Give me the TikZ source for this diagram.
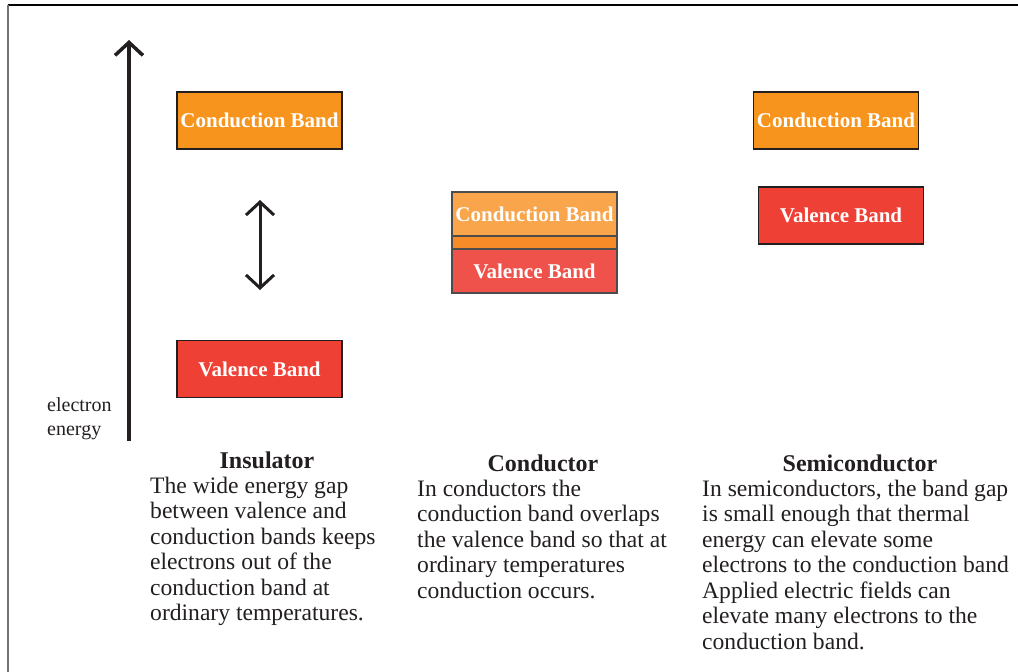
\documentclass[tikz,border=0pt]{standalone}
\usepackage{fontspec}
\setmainfont{Liberation Serif}
\usetikzlibrary{arrows.meta,positioning}
\definecolor{condorange}{HTML}{F7941D}
\definecolor{valred}{HTML}{EF4036}
\definecolor{lightorange}{HTML}{F9A54B}
\definecolor{midorange}{HTML}{F68B28}
\definecolor{lightred}{HTML}{EF524A}
\definecolor{inkgrey}{HTML}{231F20}
\tikzset{
  band/.style={draw=inkgrey, line width=1.3pt, text=white, inner sep=0pt,
    minimum width=165pt, minimum height=57pt,
    font=\bfseries\fontsize{21}{21}\selectfont},
  thinband/.style={band, draw=black!70, minimum height=44pt},
  bodytext/.style={anchor=north west, align=left, inner sep=0pt, text=inkgrey,
    font=\fontsize{23.6}{25.5}\selectfont},
  title/.style={anchor=base, inner sep=0pt, text=inkgrey,
    font=\bfseries\fontsize{24}{24}\selectfont},
  energyarrow/.style={inkgrey, line width=3.5pt,
    -{Straight Barb[length=13pt,width=28pt]}},
  gaparrow/.style={inkgrey, line width=3pt,
    {Straight Barb[length=13pt,width=28pt]}-{Straight Barb[length=13pt,width=28pt]}}
}
\begin{document}
\begin{tikzpicture}[x=1pt,y=-1pt]
\useasboundingbox (0,0) rectangle (1018,672);
\draw[line width=1.5pt] (8,5) -- (1018,5);
\draw[black!55, line width=2.5pt] (8,5) -- (8,672);

% energy axis
\coordinate (axbot) at (129,441);
\coordinate (axtop) at (129,40);
\draw[energyarrow] (axbot) -- (axtop);
\node[anchor=north west, align=left, inner sep=0pt, text=inkgrey,
  font=\fontsize{20}{23.5}\selectfont] (axlabel) at (47,397.5) {electron\\energy};

% insulator
\node[band, fill=condorange] (inscond) at (259.5,120.5) {Conduction Band};
\node[band, fill=valred] (insval) at (259.5,369) {Valence Band};
\coordinate (gaptop) at (260,200);
\coordinate (gapbot) at (260,290);
\draw[gaparrow] (gaptop) -- (gapbot);
\node[title] (institle) at (267,468) {Insulator};
\node[bodytext] (instext) at (150,476.5) {The wide energy gap\\between valence and\\conduction bands keeps\\electrons out of the\\conduction band at\\ordinary temperatures.};

% conductor
\node[thinband, fill=lightorange] (concond) at (534.5,214) {Conduction Band};
\node[band, draw=black!70, fill=midorange, minimum height=13pt] (constrip) at (534.5,242.5) {};
\node[thinband, fill=lightred] (conval) at (534.5,271) {Valence Band};
\node[title] (contitle) at (543,471) {Conductor};
\node[bodytext] (context) at (417,479.5) {In conductors the\\conduction band overlaps\\the valence band so that at\\ordinary temperatures\\conduction occurs.};

% semiconductor
\node[band, fill=condorange] (semicond) at (836,120.5) {Conduction Band};
\node[band, fill=valred] (semival) at (841,215.5) {Valence Band};
\node[title] (semititle) at (860,471) {Semiconductor};
\node[bodytext] (semitext) at (702,479.5) {In semiconductors, the band gap\\is small enough that thermal\\energy can elevate some\\electrons to the conduction band\\Applied electric fields can\\elevate many electrons to the\\conduction band.};
\end{tikzpicture}
\end{document}
